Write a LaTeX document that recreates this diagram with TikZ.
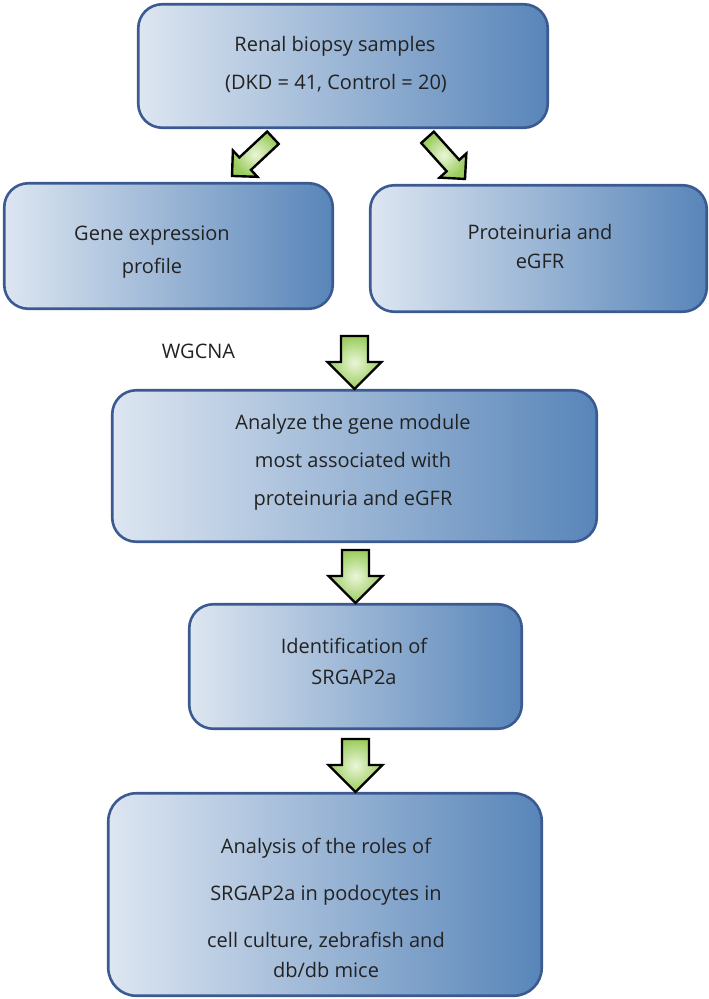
\documentclass[tikz,border=0pt]{standalone}
\usepackage{fontspec}
\setmainfont{Open Sans}
\usetikzlibrary{calc}
\definecolor{boxL}{HTML}{DDE6F1}
\definecolor{boxR}{HTML}{5885B9}
\definecolor{boxline}{HTML}{3B5A91}
\definecolor{txt}{HTML}{222222}
\definecolor{grIn}{HTML}{EAF6D8}
\definecolor{grOut}{HTML}{9ACB5C}
\begin{document}
\begin{tikzpicture}[x=1pt,y=-1pt,
  box/.style={draw=boxline, line width=2.6pt, rounded corners=24pt,
    left color=boxL, right color=boxR, inner sep=0pt},
  lbl/.style={anchor=base, inner sep=0pt, text=txt,
    font=\fontsize{20}{24}\selectfont},
  arr/.style={draw=black, line width=2.4pt, line join=miter,
    shading=radial, inner color=grIn, outer color=grOut},
  varrow/.pic={\path[arr] (0,0) -- (-27,-27) -- (-13.5,-27) -- (-13.5,-53)
      -- (13.5,-53) -- (13.5,-27) -- (27,-27) -- cycle;},
  darrow/.pic={\path[arr] (0,0) -- (-18,-18) -- (-8.5,-18) -- (-8.5,-56)
      -- (8.5,-56) -- (8.5,-18) -- (18,-18) -- cycle;}
]
\useasboundingbox (0,0) rectangle (709,999);
\fill[white] (0,0) rectangle (709,999);

% boxes
\node[box, minimum width=409.5pt, minimum height=123.5pt] (b1) at (343,66) {};
\node[box, minimum width=328.5pt, minimum height=125.5pt] (b2) at (168.5,246) {};
\node[box, minimum width=336.5pt, minimum height=126.5pt] (b3) at (538.5,248.5) {};
\node[box, minimum width=484.5pt, minimum height=151.5pt] (b4) at (354.5,466) {};
\node[box, minimum width=332.5pt, minimum height=124.5pt] (b5) at (355.5,666.5) {};
\node[box, rounded corners=28pt, minimum width=433.5pt, minimum height=202.5pt] (b6) at (325,894.5) {};

% texts
\node[lbl] (t1a) at (335,51) {Renal biopsy samples};
\node[lbl] (t1b) at (336,89) {(DKD = 41, Control = 20)};
\node[lbl] (t2a) at (152,240) {Gene expression};
\node[lbl] (t2b) at (152,273) {profile};
\node[lbl] (t3a) at (540,239) {Proteinuria and};
\node[lbl] (t3b) at (540,268) {eGFR};
\node[lbl] (wg) at (198.5,358) {WGCNA};
\node[lbl] (t4a) at (353,429) {Analyze the gene module};
\node[lbl] (t4b) at (353,467) {most associated with};
\node[lbl] (t4c) at (353,505) {proteinuria and eGFR};
\node[lbl] (t5a) at (354,653) {Identification of};
\node[lbl] (t5b) at (354,684) {SRGAP2a};
\node[lbl] (t6a) at (326,853) {Analysis of the roles of};
\node[lbl] (t6b) at (326,900) {SRGAP2a in podocytes in};
\node[lbl] (t6c) at (326,947) {cell culture, zebrafish and};
\node[lbl] (t6d) at (326,977) {db/db mice};

% block arrows
\coordinate (tipL) at ($(b2.north)+(63.5,-6)$);
\coordinate (tipR) at ($(b3.north)+(-73.5,-5)$);
\coordinate (tip4) at (b4.north);
\coordinate (tip5) at (b5.north);
\coordinate (tip6) at (b5.south |- b6.north);
\pic[rotate=-47] at (tipL) {darrow};
\pic[rotate=42] at (tipR) {darrow};
\pic at (tip4) {varrow};
\pic at (tip5) {varrow};
\pic at (tip6) {varrow};
\end{tikzpicture}
\end{document}
